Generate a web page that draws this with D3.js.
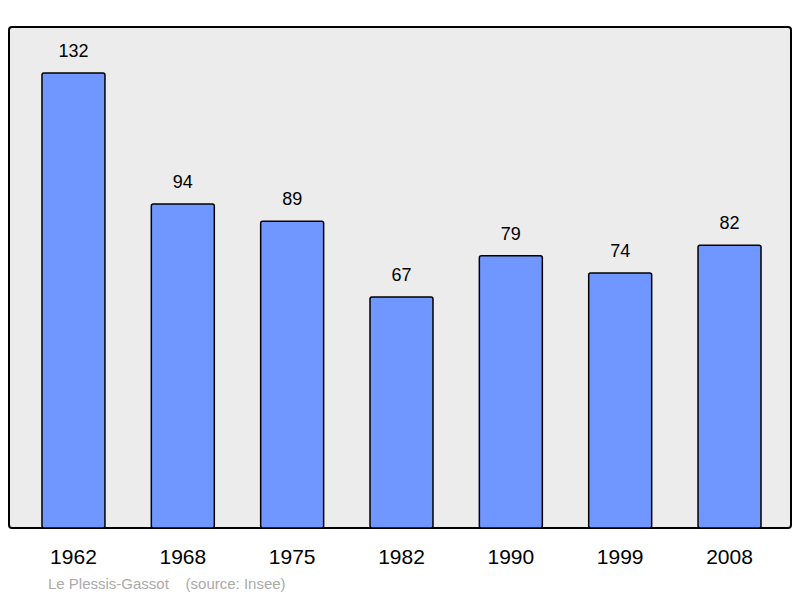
<!DOCTYPE html>
<html><head><meta charset="utf-8">
<script src="https://cdn.jsdelivr.net/npm/d3@7"></script>
<style>body{margin:0;background:#fff}</style>
</head><body><div id="chart"></div>
<script>
var years = ["1962", "1968", "1975", "1982", "1990", "1999", "2008"];
var population = [132, 94, 89, 67, 79, 74, 82];

var svg = d3.select("#chart").append("svg").attr("width", 800).attr("height", 598)
  .style("font-family", "Liberation Sans, Arial, sans-serif");

svg.append("rect").attr("x", 9).attr("y", 27).attr("width", 782).attr("height", 501)
  .attr("rx", 3).attr("fill", "#ececec").attr("stroke", "#000").attr("stroke-width", 2);

var x = d3.scaleBand().domain(years).range([18.8, 784.2]).paddingInner(0.424).paddingOuter(0.212);
var y = d3.scaleLinear().domain([0, 132]).range([528, 73]);

svg.selectAll(".bar").data(population).enter().append("rect")
  .attr("x", (d, i) => x(years[i])).attr("y", d => y(d))
  .attr("width", x.bandwidth()).attr("height", d => 528 - y(d))
  .attr("rx", 2).attr("fill", "#7097ff").attr("stroke", "#000").attr("stroke-width", 1.5);

svg.selectAll(".val").data(population).enter().append("text")
  .attr("x", (d, i) => x(years[i]) + x.bandwidth() / 2).attr("y", d => y(d) - 16)
  .attr("text-anchor", "middle").attr("font-size", 18).text(d => d);

svg.selectAll(".yr").data(years).enter().append("text")
  .attr("x", d => x(d) + x.bandwidth() / 2).attr("y", 564)
  .attr("text-anchor", "middle").attr("font-size", 21).text(d => d);

svg.append("text").attr("x", 48).attr("y", 589).attr("font-size", 15).attr("fill", "#aaa")
  .attr("xml:space", "preserve").text("Le Plessis-Gassot    (source: Insee)");
</script></body></html>
